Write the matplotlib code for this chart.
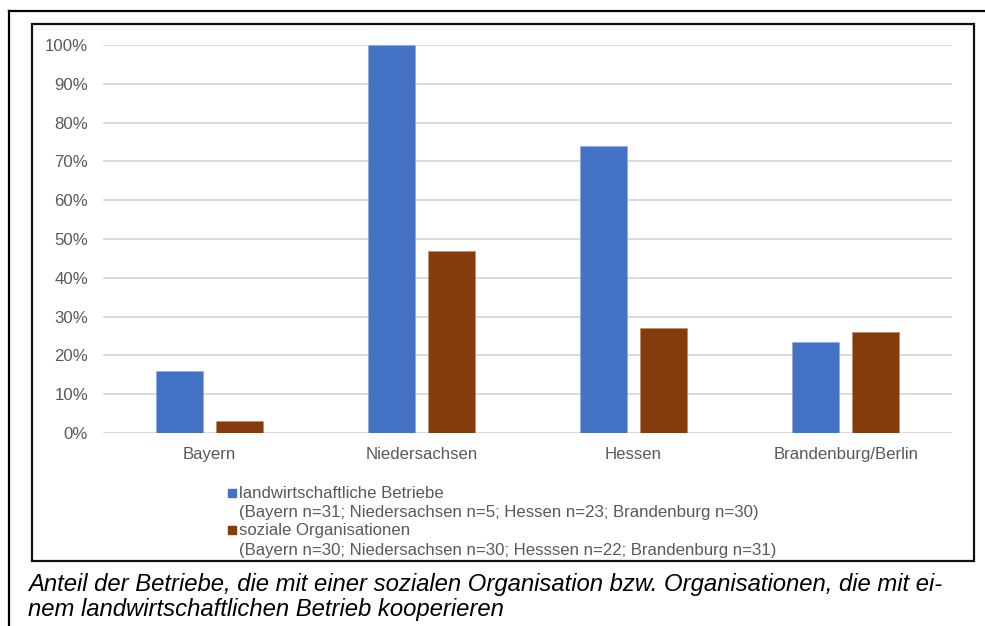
import matplotlib
matplotlib.use('Agg')
import matplotlib.pyplot as plt
from matplotlib.patches import Rectangle
from matplotlib.lines import Line2D
from matplotlib.ticker import PercentFormatter
import numpy as np

plt.rcParams['font.family'] = ['Liberation Sans', 'DejaVu Sans']

regions = ['Bayern', 'Niedersachsen', 'Hessen', 'Brandenburg/Berlin']
farms = [16, 100, 74, 23.5]          # landwirtschaftliche Betriebe, %
social = [3, 47, 27, 26]             # soziale Organisationen, %

series_labels = ['landwirtschaftliche Betriebe', 'soziale Organisationen']
series_notes = ['(Bayern n=31; Niedersachsen n=5; Hessen n=23; Brandenburg n=30)',
                '(Bayern n=30; Niedersachsen n=30; Hesssen n=22; Brandenburg n=31)']
caption = ('Anteil der Betriebe, die mit einer sozialen Organisation bzw. Organisationen, die mit ei-\n'
           'nem landwirtschaftlichen Betrieb kooperieren')

blue = '#4472C4'
brown = '#843C0C'
grey_txt = '#595959'

W, H = 985, 626
fig = plt.figure(figsize=(W / 100, H / 100), dpi=100)
ax = fig.add_axes([103 / W, 1 - 433 / H, (952 - 103) / W, (433 - 45) / H])

x = np.arange(len(regions))
bw = 0.221
off = 0.141
ax.bar(x - off, farms, width=bw, color=blue, edgecolor='#8faadc', linewidth=0.5, zorder=3)
ax.bar(x + off, social, width=bw, color=brown, edgecolor='#c58a6a', linewidth=0.5, zorder=3)

ax.set_xlim(-0.5, len(regions) - 0.5)
ax.set_ylim(0, 100)
ax.set_yticks(range(0, 101, 10))
ax.yaxis.set_major_formatter(PercentFormatter(decimals=0))
ax.set_xticks(x)
ax.set_xticklabels(regions)
ax.grid(axis='y', color='#d9d9d9', linewidth=1.3, zorder=0)
for s in ax.spines.values():
    s.set_visible(False)
ax.tick_params(axis='both', length=0, labelsize=12.1, labelcolor=grey_txt)
ax.tick_params(axis='x', pad=10)
ax.tick_params(axis='y', pad=10.8)

# legend, drawn by hand so the marker sits on the first line
leg_y = [493, 530]
for col, lab, note, y in zip([blue, brown], series_labels, series_notes, leg_y):
    fig.patches.append(Rectangle((228 / W, 1 - (y + 4) / H), 8 / W, 8 / H,
                                 transform=fig.transFigure, color=col))
    fig.text(239 / W, 1 - y / H, lab, fontsize=12.1, color=grey_txt, va='center')
    fig.text(239 / W, 1 - (y + 20) / H, note, fontsize=12.1, color=grey_txt, va='center')

# frames
fig.patches.append(Rectangle((32 / W, 1 - 561 / H), (974 - 32) / W, (561 - 24) / H,
                             transform=fig.transFigure, fill=False,
                             edgecolor='#111111', linewidth=1.6))
fig.add_artist(Line2D([9 / W, 1], [1 - 11 / H, 1 - 11 / H], transform=fig.transFigure,
                      color='black', linewidth=1.6))
fig.add_artist(Line2D([9 / W, 9 / W], [1 - 11 / H, 0], transform=fig.transFigure,
                      color='black', linewidth=1.6))

fig.text(28 / W, 1 - 597 / H, caption, fontsize=17.2, style='italic', color='black',
         va='center', linespacing=1.1)

fig.savefig('out.png', dpi=100)
